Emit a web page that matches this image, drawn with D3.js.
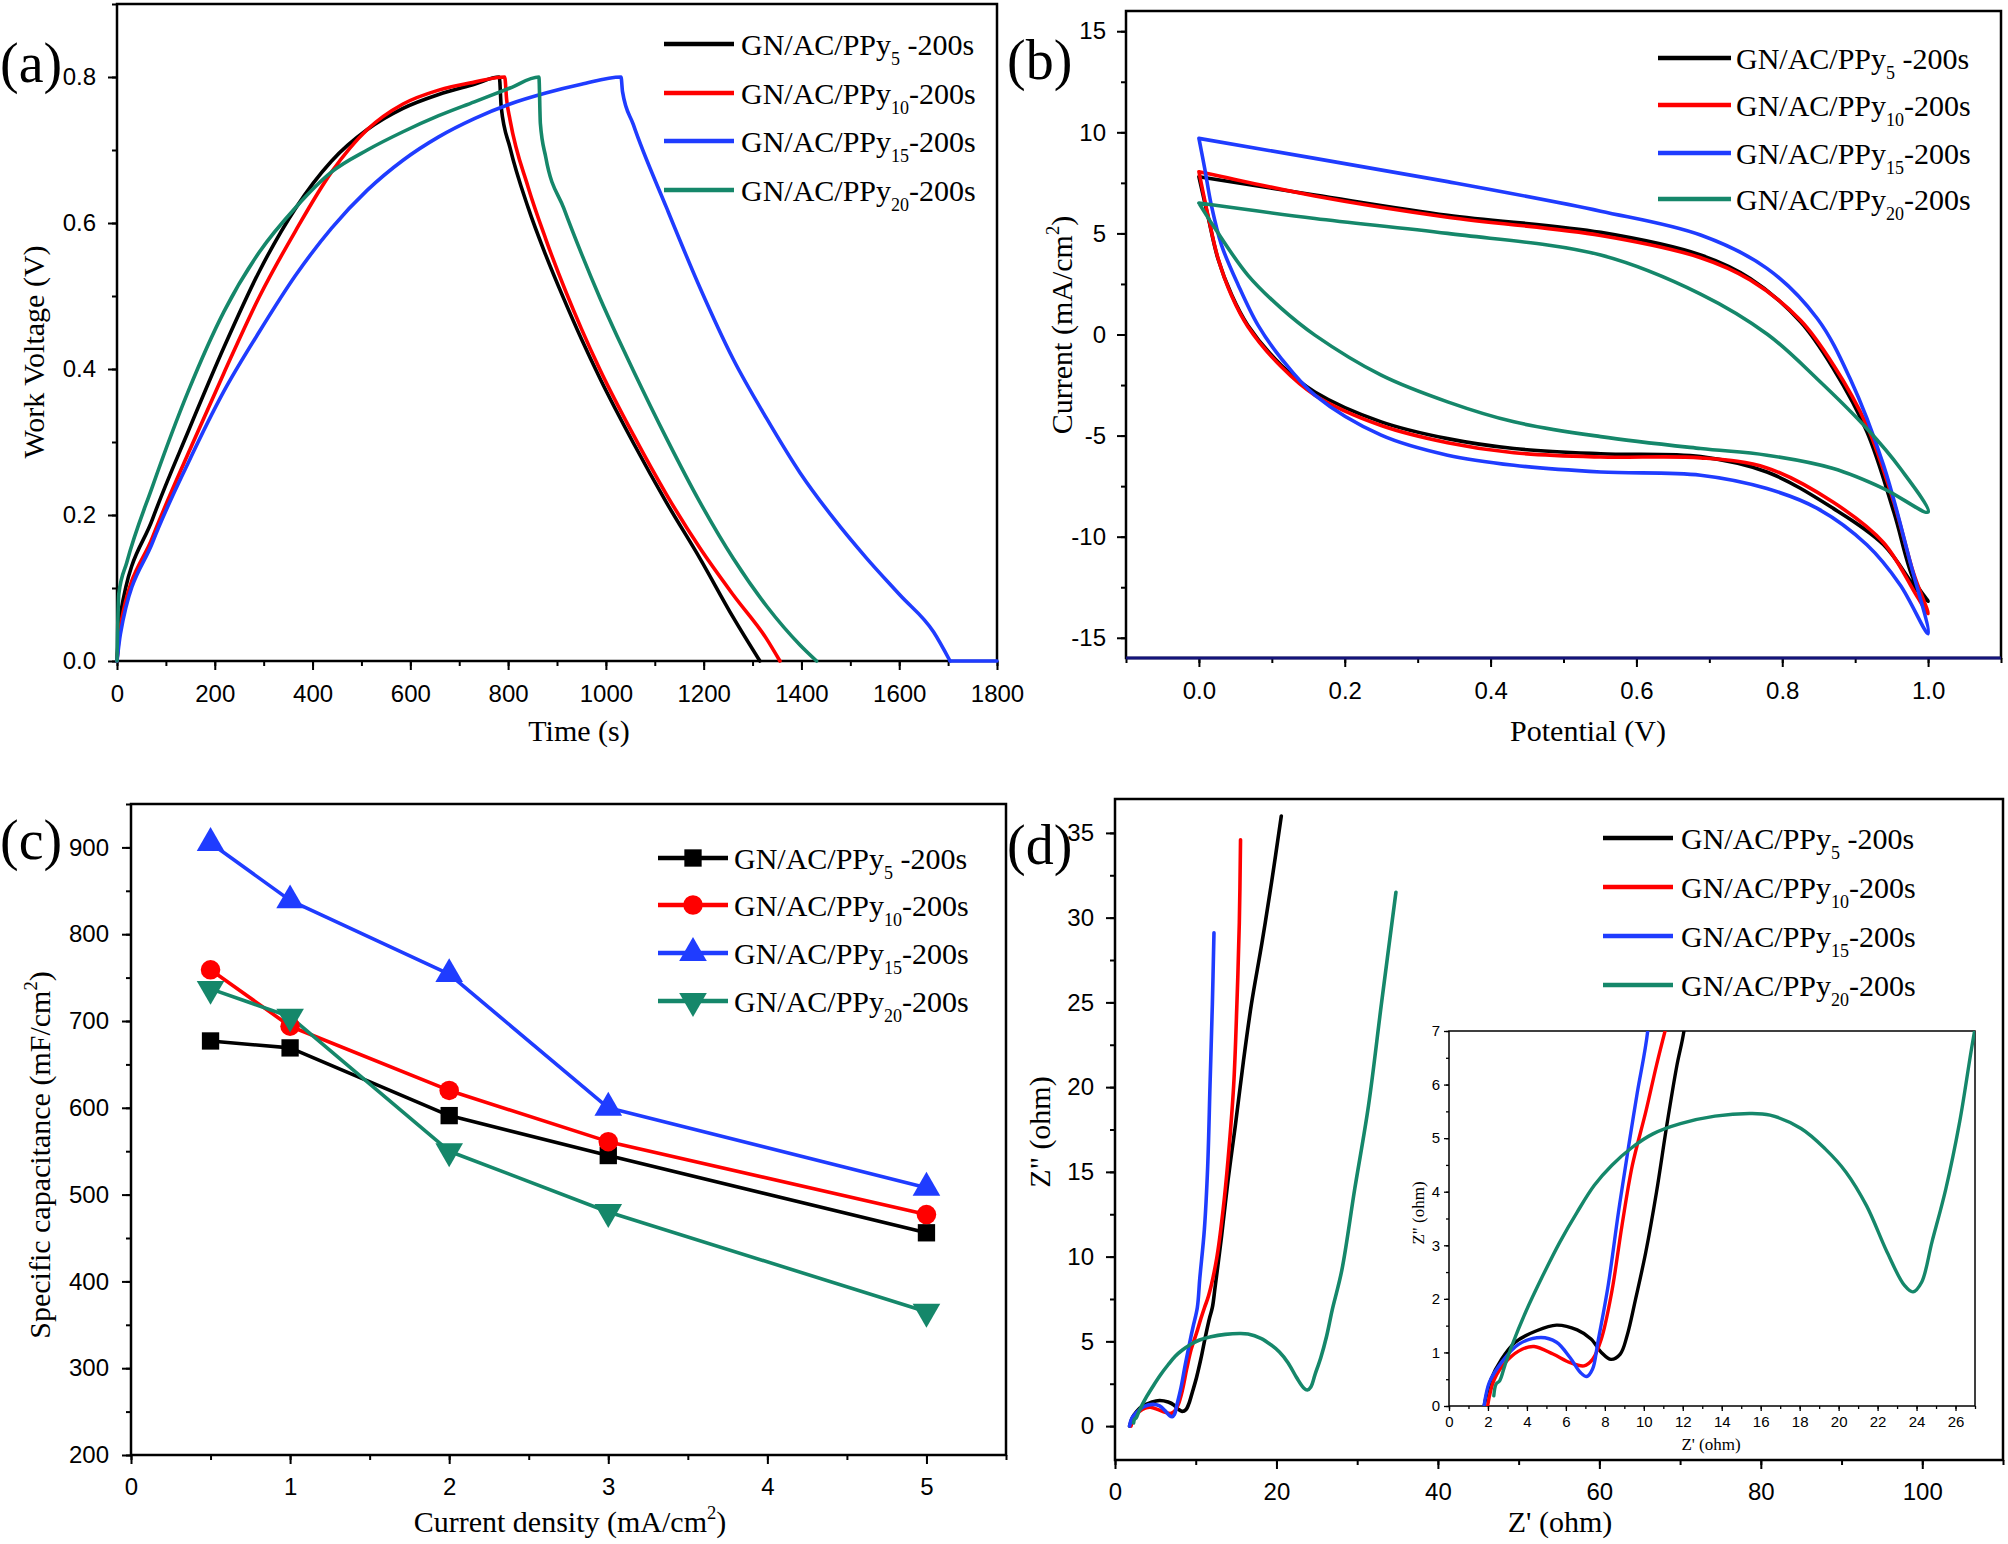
<!DOCTYPE html>
<html>
<head>
<meta charset="utf-8">
<script src="https://cdn.jsdelivr.net/npm/d3@7"></script>
<style>
body { margin: 0; background: #fff; }
text { white-space: pre; }
</style>
</head>
<body>
<svg id="fig" width="2008" height="1544"></svg>
<script>
// series shared by all four panels
const subs = ["5", "10", "15", "20"];
const colors = ["#000000", "#ff0000", "#1f3cff", "#15876a"];

// (a) charge / discharge curves, [time (s), voltage (V)]
const gcd5 = [[0,0],[7,0.064],[73,0.195],[146,0.315],[219,0.43],[292,0.535],[365,0.62],[439,0.685],[512,0.728],[585,0.757],[658,0.776],[731,0.79],[782,0.8],
  [786,0.758],[804,0.703],[841,0.621],[877,0.556],[914,0.496],[950,0.441],[988,0.387],[1056,0.299],[1124,0.217],[1192,0.141],[1261,0.059],[1315,0]];
const gcd10 = [[0,0],[7,0.048],[73,0.17],[146,0.285],[219,0.395],[292,0.5],[365,0.589],[439,0.67],[512,0.728],[585,0.763],[658,0.782],[731,0.793],[793,0.8],
  [797,0.769],[804,0.741],[841,0.649],[877,0.578],[950,0.455],[988,0.399],[1056,0.31],[1124,0.228],[1192,0.155],[1261,0.09],[1329,0.03],[1356,0]];
const gcd15 = [[0,0],[7,0.037],[73,0.163],[146,0.272],[219,0.37],[292,0.452],[365,0.528],[439,0.593],[512,0.645],[585,0.686],[658,0.718],[731,0.743],[804,0.763],[877,0.778],[950,0.79],[1031,0.8],
  [1034,0.78],[1056,0.735],[1124,0.621],[1192,0.512],[1260,0.414],[1329,0.332],[1397,0.258],[1465,0.196],[1533,0.141],[1602,0.09],[1670,0.04],[1704,0]];
const gcd15Tail = [[1704,0],[1800,0]];
const gcd20 = [[0,0],[3.7,0.092],[20,0.135],[73,0.24],[146,0.37],[219,0.479],[292,0.561],[365,0.621],[439,0.67],[512,0.7],[585,0.725],[658,0.747],[731,0.766],[804,0.785],[863,0.8],
  [866,0.736],[877,0.69],[914,0.62],[950,0.558],[988,0.497],[1023,0.445],[1056,0.398],[1124,0.305],[1192,0.218],[1261,0.14],[1329,0.075],[1397,0.022],[1431,0]];

// (b) cyclic voltammetry loops, [potential (V), current (mA/cm2)]
const cv5 = [[0,7.8],[0.159,6.9],[0.341,5.9],[0.551,5.05],[0.688,3.93],[0.756,2.77],[0.825,0.63],[0.87,-1.68],[0.916,-4.8],[0.953,-8.78],[0.98,-12.1],[1,-13.2],
  [0.984,-12.6],[0.939,-10.4],[0.87,-8.6],[0.779,-6.8],[0.688,-6.04],[0.551,-5.9],[0.432,-5.64],[0.341,-5.15],[0.25,-4.32],[0.159,-2.84],[0.113,-1.52],[0.067,0.46],[0.045,1.95],[0.026,3.76],[0.013,5.74],[0,7.8]];
const cv10 = [[0,8.05],[0.02,7.9],[0.159,6.85],[0.341,5.8],[0.551,4.9],[0.688,3.8],[0.756,2.7],[0.825,0.7],[0.87,-1.5],[0.916,-4.5],[0.953,-8.3],[0.98,-11.8],[1,-13.8],
  [0.984,-12.9],[0.939,-10.3],[0.87,-8.3],[0.779,-6.6],[0.688,-6.1],[0.551,-6.06],[0.432,-5.85],[0.341,-5.35],[0.25,-4.5],[0.159,-3.0],[0.113,-1.6],[0.067,0.4],[0.045,1.9],[0.026,3.8],[0.013,5.8],[0,8.05]];
const cv15 = [[0,9.7],[0.159,8.71],[0.341,7.56],[0.551,6.1],[0.688,4.92],[0.779,3.27],[0.848,0.79],[0.893,-2.18],[0.939,-6.47],[0.975,-11.2],[1,-14.8],
  [0.962,-12.4],[0.916,-10.4],[0.848,-8.6],[0.779,-7.62],[0.688,-6.96],[0.551,-6.8],[0.432,-6.47],[0.341,-5.97],[0.25,-4.98],[0.159,-3.0],[0.113,-1.19],[0.081,0.46],[0.054,2.44],[0.031,4.42],[0.017,6.4],[0.008,8.2],[0,9.7]];
const cv20 = [[0,6.5],[0.159,5.74],[0.341,5.0],[0.551,3.93],[0.688,2.0],[0.78,0],[0.848,-2.2],[0.916,-4.65],[0.962,-6.63],[1,-8.78],
  [0.939,-7.62],[0.87,-6.63],[0.779,-5.97],[0.688,-5.64],[0.551,-5.05],[0.432,-4.32],[0.341,-3.33],[0.25,-2.01],[0.159,-0.03],[0.113,1.29],[0.067,2.94],[0.022,5.25],[0,6.5]];

// (c) specific capacitance vs current density
const densities = [0.5, 1, 2, 3, 5];
const cap5 = [677, 669, 591, 545, 456];
const cap10 = [759, 694, 620, 561, 477];
const cap15 = [905, 839, 754, 600, 508];
const cap20 = [737, 705, 550, 480, 365];

// (d) Nyquist plots, [Z' (ohm), Z'' (ohm)]
const eis5 = [[1.8,0],[2.16,0.5],[2.69,0.87],[3.4,1.19],[4.46,1.4],[5.52,1.51],[6.58,1.42],[7.29,1.25],[7.82,1.0],[8.31,0.87],[8.79,0.97],[9.14,1.31],[9.58,2.0],[10.1,2.87],[10.65,3.99],[11.18,5.24],[11.7,6.36],[12.06,7.0],[12.4,8.2],[13.2,11.2],[14.0,14.5],[14.9,17.7],[15.9,21.5],[16.9,24.9],[18.2,28.5],[19.4,32.1],[20.6,36]];
const eis10 = [[1.98,0],[2.33,0.5],[3.04,0.87],[3.75,1.06],[4.37,1.11],[5.34,0.97],[6.22,0.81],[6.93,0.75],[7.37,0.87],[7.82,1.25],[8.35,2.12],[8.88,3.37],[9.41,4.49],[10.1,5.49],[10.65,6.36],[11.09,7.0],[11.6,7.7],[12.6,9.9],[13.4,12.8],[14.0,15.7],[14.7,20.1],[15.1,24.9],[15.4,29.7],[15.55,34.6]];
const eis15 = [[1.8,0],[2.07,0.44],[2.69,0.81],[3.57,1.15],[4.72,1.28],[5.52,1.19],[6.22,0.9],[6.76,0.62],[7.07,0.55],[7.37,0.69],[7.64,1.19],[8.17,2.25],[8.7,3.62],[9.23,4.87],[9.67,5.86],[10.2,7.0],[10.5,8.7],[11.07,11.6],[11.48,15.3],[11.77,20.1],[12.06,24.9],[12.26,29.1]];
const eis20 = [[2.3,0.19],[2.42,0.41],[2.6,0.47],[2.86,0.75],[3.22,1.12],[3.93,1.75],[4.81,2.43],[5.69,3.06],[6.58,3.62],[7.46,4.12],[8.35,4.49],[9.41,4.83],[10.47,5.08],[11.88,5.27],[13.65,5.41],[15.42,5.46],[16.48,5.43],[18.07,5.18],[19.31,4.8],[20.37,4.37],[21.43,3.74],[22.49,2.87],[23.38,2.25],[23.82,2.13],[24.26,2.31],[24.79,3.06],[25.5,4.05],[26.21,5.3],[26.91,6.86],[28.1,9.2],[29.7,14.0],[31.4,18.9],[33.0,24.9],[34.8,31.5]];

// tick values
const aXTicks = [0, 200, 400, 600, 800, 1000, 1200, 1400, 1600, 1800];
const aYTicks = [0, 0.2, 0.4, 0.6, 0.8];
const bXTicks = [0, 0.2, 0.4, 0.6, 0.8, 1.0];
const bYTicks = [-15, -10, -5, 0, 5, 10, 15];
const cXTicks = [0, 1, 2, 3, 4, 5];
const cYTicks = [200, 300, 400, 500, 600, 700, 800, 900];
const dXTicks = [0, 20, 40, 60, 80, 100];
const dYTicks = [0, 5, 10, 15, 20, 25, 30, 35];
const insetXTicks = [0, 2, 4, 6, 8, 10, 12, 14, 16, 18, 20, 22, 24, 26];
const insetYTicks = [0, 1, 2, 3, 4, 5, 6, 7];

const SANS = "Liberation Sans, Arial, sans-serif";
const SERIF = "Liberation Serif, Times New Roman, serif";

let svg = d3.select("#fig");

function makePanel(box, xd, yd) {
  return {
    box: box,
    x: d3.scaleLinear().domain(xd).range([box.l, box.r]),
    y: d3.scaleLinear().domain(yd).range([box.b, box.t])
  };
}

function drawAxes(p, o) {
  let g = svg.append("g");
  let big = o.big || 9, small = o.small || 5;
  g.append("g").attr("transform", "translate(0," + p.box.b + ")")
    .call(d3.axisBottom(p.x).tickValues(o.xMinor).tickSize(small).tickFormat(""));
  g.append("g").attr("transform", "translate(0," + p.box.b + ")")
    .call(d3.axisBottom(p.x).tickValues(o.xTicks).tickSize(big).tickPadding(o.xPad).tickFormat(o.xFmt));
  g.append("g").attr("transform", "translate(" + p.box.l + ",0)")
    .call(d3.axisLeft(p.y).tickValues(o.yMinor).tickSize(small).tickFormat(""));
  g.append("g").attr("transform", "translate(" + p.box.l + ",0)")
    .call(d3.axisLeft(p.y).tickValues(o.yTicks).tickSize(big).tickPadding(o.yPad).tickFormat(o.yFmt));
  g.selectAll(".domain").remove();
  g.selectAll(".tick line").attr("stroke", "#000").attr("stroke-width", o.tw || 2);
  g.selectAll(".tick text").attr("font-size", o.fs || 24).attr("font-family", SANS).attr("fill", "#000");
  svg.append("rect")
    .attr("x", p.box.l).attr("y", p.box.t)
    .attr("width", p.box.r - p.box.l).attr("height", p.box.b - p.box.t)
    .attr("fill", "none").attr("stroke", "#000").attr("stroke-width", o.fw || 2.5);
}

// text with optional superscript parts: [["text"], ["2", "sup"]]
function title(x, y, rotate, parts, size) {
  let t = svg.append("text")
    .attr("font-family", SERIF).attr("font-size", size).attr("text-anchor", "middle").attr("fill", "#000")
    .attr("transform", "translate(" + x + "," + y + ")" + (rotate ? " rotate(-90)" : ""));
  let shift = 0;
  parts.forEach(function (pt) {
    let s = t.append("tspan").text(pt[0]);
    if (pt[1] === "sup") {
      s.attr("font-size", size * 0.62).attr("dy", -size * 0.42);
      shift = size * 0.42;
    } else if (shift) {
      s.attr("dy", shift);
      shift = 0;
    }
  });
}

function panelLetter(x, y, s) {
  svg.append("text").attr("x", x).attr("y", y).attr("font-family", SERIF)
    .attr("font-size", 56).attr("fill", "#000").text(s);
}

let symbols = [
  d3.symbol().type(d3.symbolSquare).size(300)(),
  d3.symbol().type(d3.symbolCircle).size(300)(),
  d3.symbol().type(d3.symbolTriangle).size(330)(),
  d3.symbol().type(d3.symbolTriangle).size(330)()
];

function legend(x0, x1, tx, ys, withMarkers) {
  subs.forEach(function (s, i) {
    svg.append("line").attr("x1", x0).attr("x2", x1).attr("y1", ys[i]).attr("y2", ys[i])
      .attr("stroke", colors[i]).attr("stroke-width", 4.5);
    if (withMarkers) {
      svg.append("path").attr("d", symbols[i]).attr("fill", colors[i])
        .attr("transform", "translate(" + (x0 + x1) / 2 + "," + ys[i] + ")" + (i === 3 ? " rotate(180)" : ""));
    }
    let t = svg.append("text").attr("x", tx).attr("y", ys[i] + 11)
      .attr("font-family", SERIF).attr("font-size", 30).attr("fill", "#000");
    t.append("tspan").text("GN/AC/PPy");
    t.append("tspan").attr("font-size", 18).attr("dy", 10).text(s);
    t.append("tspan").attr("dy", -10).text(s === "5" ? " -200s" : "-200s");
  });
}

function drawLines(p, sets, curve, width, clipId, cols) {
  let line = d3.line().x(d => p.x(d[0])).y(d => p.y(d[1])).curve(curve);
  let g = svg.append("g");
  if (clipId) g.attr("clip-path", "url(#" + clipId + ")");
  sets.forEach(function (d, i) {
    g.append("path").attr("d", line(d)).attr("fill", "none")
      .attr("stroke", (cols || colors)[i]).attr("stroke-width", width)
      .attr("stroke-linejoin", "round").attr("stroke-linecap", "round");
  });
}

function clip(id, box) {
  svg.append("clipPath").attr("id", id).append("rect")
    .attr("x", box.l).attr("y", box.t).attr("width", box.r - box.l).attr("height", box.b - box.t);
}

// ---------- (a) ----------
let pa = makePanel({l: 117, r: 997, t: 4, b: 661}, [0, 1800], [0, 0.9]);
drawAxes(pa, {
  xTicks: aXTicks, xMinor: d3.range(0, 1801, 100), xPad: 15, xFmt: d => String(d),
  yTicks: aYTicks, yMinor: d3.range(0, 0.91, 0.1), yPad: 12, yFmt: d3.format(".1f")
});
drawLines(pa, [gcd5, gcd10, gcd15, gcd20], d3.curveMonotoneX, 3.6);
drawLines(pa, [gcd15Tail], d3.curveLinear, 3.6, null, [colors[2]]);
legend(664, 734, 741, [44, 93, 141, 190], false);
title(579, 741, false, [["Time (s)"]], 30);
title(44, 352, true, [["Work Voltage (V)"]], 30);
panelLetter(0, 82, "(a)");

// ---------- (b) ----------
let pb = makePanel({l: 1126, r: 2001, t: 11, b: 658}, [-0.1, 1.1], [-16, 16]);
drawAxes(pb, {
  xTicks: bXTicks, xMinor: d3.range(-0.1, 1.11, 0.1), xPad: 15, xFmt: d3.format(".1f"),
  yTicks: bYTicks, yMinor: d3.range(-15, 16, 2.5), yPad: 11, yFmt: d => String(d)
});
svg.append("line").attr("x1", pb.box.l).attr("x2", pb.box.r).attr("y1", pb.box.b).attr("y2", pb.box.b)
  .attr("stroke", "#14147a").attr("stroke-width", 3);
drawLines(pb, [cv5, cv10, cv15, cv20], d3.curveCatmullRom.alpha(0.5), 3.6);
legend(1658, 1731, 1736, [58, 105, 153, 199], false);
title(1588, 741, false, [["Potential (V)"]], 30);
title(1072, 325, true, [["Current (mA/cm"], ["2", "sup"], [")"]], 30);
panelLetter(1007, 79, "(b)");

// ---------- (c) ----------
let pc = makePanel({l: 131, r: 1006, t: 804, b: 1455}, [0, 5.5], [200, 950]);
drawAxes(pc, {
  xTicks: cXTicks, xMinor: d3.range(0, 5.51, 0.5), xPad: 14, xFmt: d => String(d),
  yTicks: cYTicks, yMinor: d3.range(200, 951, 50), yPad: 13, yFmt: d => String(d)
});
let capSets = [cap5, cap10, cap15, cap20].map(c => c.map((v, k) => [densities[k], v]));
drawLines(pc, capSets, d3.curveLinear, 3.6);
capSets.forEach(function (set, i) {
  svg.append("g").selectAll("path").data(set).join("path")
    .attr("d", symbols[i]).attr("fill", colors[i])
    .attr("transform", d => "translate(" + pc.x(d[0]) + "," + pc.y(d[1]) + ")" + (i === 3 ? " rotate(180)" : ""));
});
legend(658, 728, 734, [858, 905, 953, 1001], true);
title(570, 1532, false, [["Current density (mA/cm"], ["2", "sup"], [")"]], 30);
title(50, 1155, true, [["Specific capacitance (mF/cm"], ["2", "sup"], [")"]], 30);
panelLetter(0, 859, "(c)");

// ---------- (d) ----------
let pd = makePanel({l: 1115, r: 2003, t: 799, b: 1460}, [0, 110], [-2, 37]);
drawAxes(pd, {
  xTicks: dXTicks, xMinor: d3.range(0, 111, 10), xPad: 14, xFmt: d => String(d),
  yTicks: dYTicks, yMinor: d3.range(0, 37, 2.5), yPad: 12, yFmt: d => String(d)
});
clip("clipD", pd.box);
drawLines(pd, [eis5, eis10, eis15, eis20], d3.curveCatmullRom.alpha(0.5), 3.6, "clipD");
legend(1603, 1673, 1681, [838, 887, 936, 985], false);
title(1560, 1532, false, [["Z' (ohm)"]], 30);
title(1050, 1132, true, [["Z\" (ohm)"]], 30);
panelLetter(1007, 864, "(d)");

// inset of (d)
let pi = makePanel({l: 1449, r: 1975, t: 1031, b: 1406}, [0, 27], [0, 7]);
svg.append("rect").attr("x", pi.box.l).attr("y", pi.box.t)
  .attr("width", pi.box.r - pi.box.l).attr("height", pi.box.b - pi.box.t).attr("fill", "#fff");
drawAxes(pi, {
  xTicks: insetXTicks, xMinor: d3.range(0, 27.1, 1), xPad: 5, xFmt: d => String(d),
  yTicks: insetYTicks, yMinor: d3.range(0, 7.01, 0.5), yPad: 4, yFmt: d => String(d),
  big: 5, small: 3, fs: 15, tw: 1.3, fw: 1.5
});
clip("clipI", pi.box);
drawLines(pi, [eis5, eis10, eis15, eis20], d3.curveCatmullRom.alpha(0.5), 3.4, "clipI");
title(1711, 1450, false, [["Z' (ohm)"]], 17);
title(1424, 1213, true, [["Z\" (ohm)"]], 17);
</script>
</body>
</html>
